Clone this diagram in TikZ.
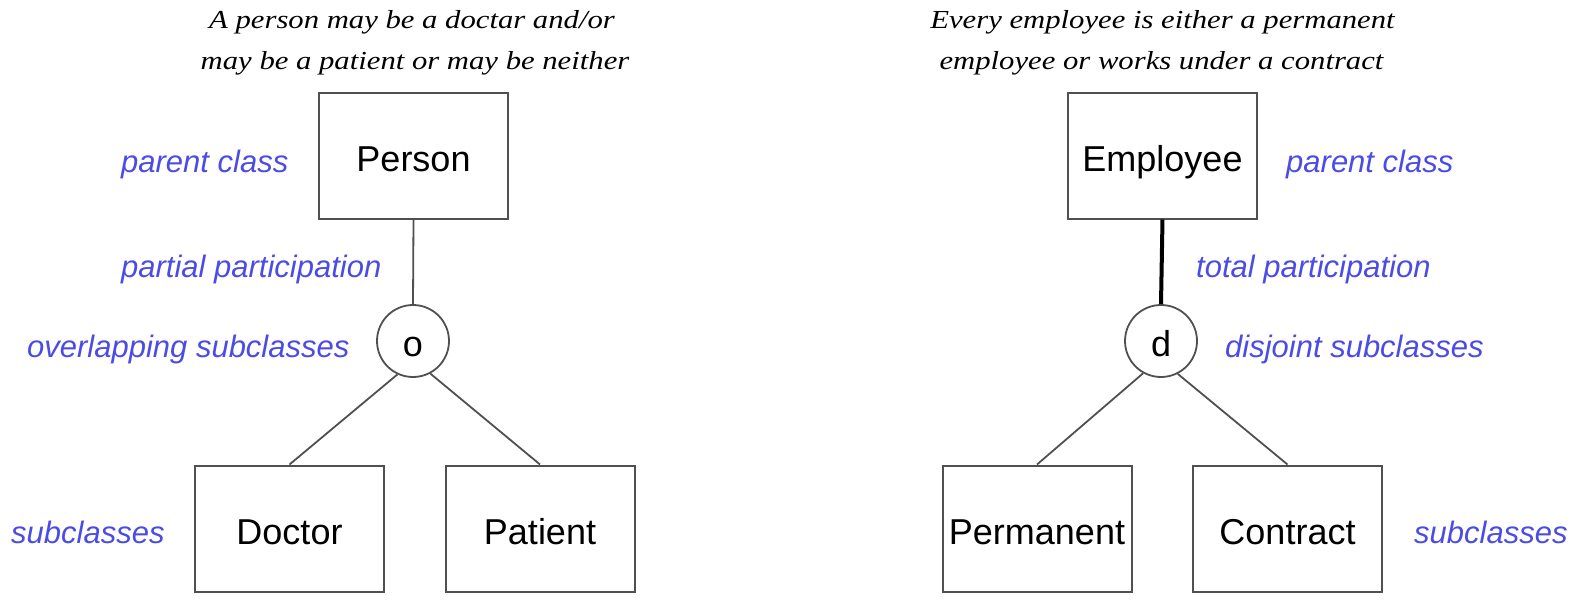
\documentclass[tikz,border=0pt]{standalone}
\usepackage{fontspec}
\setmainfont{Liberation Sans}
\newfontfamily\titlefont[FakeStretch=1.18]{Liberation Serif}
\definecolor{lblue}{RGB}{75,75,230}
\definecolor{edge}{RGB}{80,80,80}
\begin{document}
\begin{tikzpicture}[x=1pt,y=-1pt,
 cls/.style={draw=edge,line width=2pt,minimum width=189pt,minimum height=126pt,inner sep=0pt,font=\fontsize{36}{36}\selectfont,text height=31pt,text depth=0pt},
 spec/.style={draw=edge,line width=1.8pt,circle,minimum size=72pt,inner sep=0pt,font=\fontsize{36}{36}\selectfont,text height=30pt,text depth=0pt},
 note/.style={text=lblue,font=\fontsize{31}{31}\selectfont\itshape,anchor=base west,inner sep=0pt},
 ttl/.style={font=\titlefont\itshape\fontsize{26}{26}\selectfont,anchor=base,inner sep=0pt},
 link/.style={draw=edge,line width=1.8pt},
 tot/.style={draw=black,line width=4pt}]
\useasboundingbox (0,0) rectangle (1580,602);

% left diagram
\node[ttl] (t1a) at (412,29) {A person may be a doctar and/or};
\node[ttl] (t1b) at (415,70) {may be a patient or may be neither};
\node[cls] (person) at (413.5,155.5) {Person};
\node[spec] (o) at (413,341) {o};
\node[cls] (doctor) at (289.5,528.5) {Doctor};
\node[cls] (patient) at (540,528.5) {Patient};
\draw[link] (person.south) -- (o.north);
\draw[link] (o.245) -- (doctor.north);
\draw[link] (o.-62) -- (patient.north);
\node[note] (n1) at (121,172) {parent class};
\node[note] (n2) at (121,277) {partial participation};
\node[note] (n3) at (27,357) {overlapping subclasses};
\node[note] (n4) at (11,543) {subclasses};

% right diagram
\node[ttl] (t2a) at (1162.5,29) {Every employee is either a permanent};
\node[ttl] (t2b) at (1161.5,70) {employee or works under a contract};
\node[cls] (employee) at (1162.5,155.5) {Employee};
\node[spec] (d) at (1161,341) {d};
\node[cls] (permanent) at (1037,528.5) {Permanent};
\node[cls] (contract) at (1287.5,528.5) {Contract};
\draw[tot] (employee.south) -- (d.north);
\draw[link] (d.241) -- (permanent.north);
\draw[link] (d.-63) -- (contract.north);
\node[note] (m1) at (1286,172) {parent class};
\node[note] (m2) at (1196,277) {total participation};
\node[note] (m3) at (1225,357) {disjoint subclasses};
\node[note] (m4) at (1414,543) {subclasses};
\end{tikzpicture}
\end{document}
